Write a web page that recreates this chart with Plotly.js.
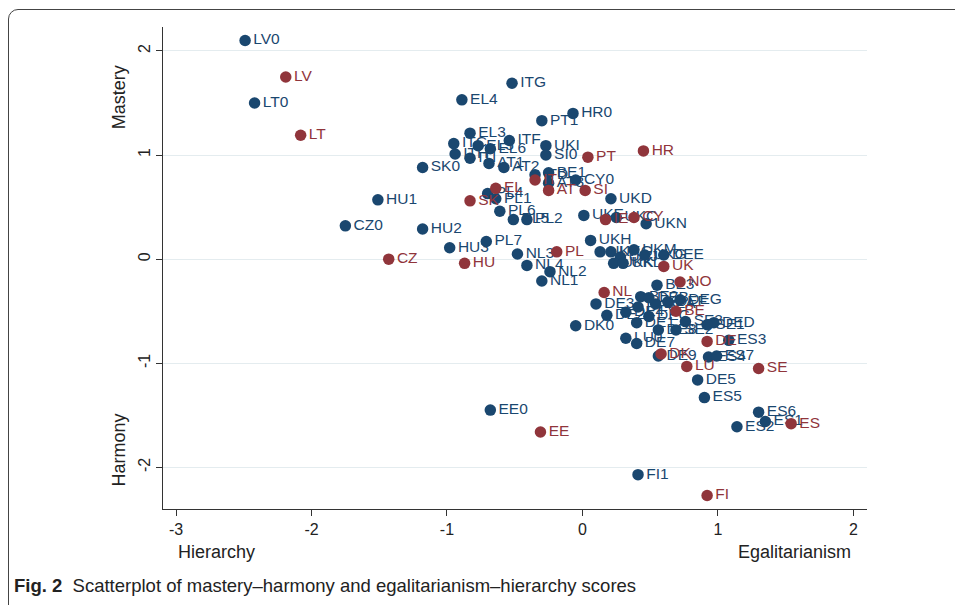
<!DOCTYPE html>
<html>
<head>
<meta charset="utf-8">
<script src="https://cdn.plot.ly/plotly-3.0.1.min.js"></script>
<style>
html,body{margin:0;padding:0;background:#fff;}
#wrap{position:relative;width:955px;height:605px;overflow:hidden;}
#chart{position:absolute;left:0;top:0;width:955px;height:605px;}
#frame{position:absolute;left:8px;top:9px;width:960px;height:610px;border:1.3px solid #444;border-radius:10px;pointer-events:none;}
</style>
</head>
<body>
<div id="wrap">
<div id="chart"></div>
<div id="frame"></div>
</div>
<script>
// Regions (blue)
const regionLabels = ["LV0","LT0","ITG","EL4","HR0","PT1","EL3","ITF","UKI","SI0","ITC","ITH","EL5","ITI","EL6","AT1","AT2","ITD","BE1","AT3","CY0","SK0","HU1","CZ0","HU2","PL4","PL1","PL6","PL5","PL2","PL7","HU3","NL3","NL4","NL2","NL1","UKD","UKE","UKC","UKN","UKH","UKM","DEE","UKF","UKG","UKJ","UKK","UKL","UKG","BE3","BE2","DEB","DEG","DEF","DEA","DE3","DE2","DE4","DE6","DE1","DEC","DED","SE1","SE2","SE3","DE8","DK0","ES3","LU0","DE7","DE9","ES4","ES7","DE5","ES5","ES6","ES1","ES2","EE0","FI1"];
const regionX = [-2.49,-2.42,-0.52,-0.89,-0.07,-0.30,-0.83,-0.54,-0.27,-0.27,-0.95,-0.94,-0.77,-0.83,-0.68,-0.69,-0.58,-0.35,-0.25,-0.25,-0.05,-1.18,-1.51,-1.75,-1.18,-0.70,-0.64,-0.61,-0.51,-0.41,-0.71,-0.98,-0.48,-0.41,-0.24,-0.30,0.21,0.01,0.25,0.47,0.06,0.38,0.60,0.13,0.21,0.28,0.23,0.30,0.46,0.55,0.43,0.49,0.72,0.63,0.54,0.10,0.18,0.32,0.41,0.40,0.49,0.97,0.92,0.69,0.76,0.56,-0.05,1.08,0.32,0.40,0.56,0.93,0.99,0.85,0.90,1.30,1.35,1.14,-0.68,0.41];
const regionY = [2.10,1.50,1.69,1.53,1.40,1.33,1.21,1.14,1.09,1.00,1.11,1.01,1.09,0.97,1.06,0.92,0.88,0.81,0.83,0.73,0.76,0.88,0.57,0.32,0.29,0.63,0.58,0.46,0.38,0.38,0.17,0.11,0.05,-0.06,-0.12,-0.21,0.58,0.42,0.40,0.34,0.18,0.09,0.04,0.07,0.07,0.02,-0.04,-0.04,0.04,-0.25,-0.36,-0.37,-0.39,-0.41,-0.43,-0.43,-0.54,-0.51,-0.46,-0.61,-0.55,-0.61,-0.63,-0.68,-0.60,-0.68,-0.64,-0.78,-0.76,-0.81,-0.93,-0.94,-0.93,-1.16,-1.33,-1.47,-1.56,-1.61,-1.45,-2.07];

// Countries (red)
const countryLabels = ["LV","LT","HR","PT","IT","AT","SI","EL","SK","CZ","HU","IE","CY","PL","UK","NO","NL","BE","DE","DK","LU","SE","ES","EE","FI"];
const countryX = [-2.19,-2.08,0.45,0.04,-0.35,-0.25,0.02,-0.64,-0.83,-1.43,-0.87,0.17,0.38,-0.19,0.60,0.72,0.16,0.69,0.92,0.58,0.77,1.30,1.54,-0.31,0.92];
const countryY = [1.75,1.19,1.04,0.98,0.76,0.66,0.66,0.68,0.56,0.00,-0.04,0.38,0.40,0.07,-0.07,-0.22,-0.32,-0.50,-0.79,-0.91,-1.03,-1.05,-1.58,-1.66,-2.27];

const xTicks = [-3,-2,-1,0,1,2];
const yTicks = [-2,-1,0,1,2];

const blue = '#1a476f';
const red = '#90353b';
const fontFam = 'Liberation Sans Narrow, Arial, sans-serif';
const labelFam = 'Liberation Sans, Arial, sans-serif';

const traces = [
  {x: regionX, y: regionY, text: regionLabels, mode: 'markers+text', type: 'scatter',
   textposition: 'middle right', cliponaxis: false,
   marker: {color: blue, size: 11.5}, textfont: {color: blue, size: 15.5, family: labelFam}},
  {x: countryX, y: countryY, text: countryLabels, mode: 'markers+text', type: 'scatter',
   textposition: 'middle right', cliponaxis: false,
   marker: {color: red, size: 11.5}, textfont: {color: red, size: 15.5, family: labelFam}}
];

const layout = {
  width: 955, height: 605,
  margin: {l: 163, r: 88, t: 27, b: 96},
  paper_bgcolor: '#fff', plot_bgcolor: '#fff',
  showlegend: false,
  xaxis: {range: [-3.096, 2.10], tickvals: xTicks, ticktext: xTicks.map(String),
    showgrid: false, zeroline: false, showline: true, linecolor: '#333', linewidth: 1,
    ticks: 'outside', ticklen: 6, tickcolor: '#333',
    tickfont: {size: 16, color: '#222', family: fontFam}},
  yaxis: {range: [-2.40, 2.23], tickvals: yTicks, ticktext: yTicks.map(String),
    showgrid: true, gridcolor: '#e4ecef', gridwidth: 1, zeroline: false,
    showline: true, linecolor: '#333', linewidth: 1,
    ticks: 'outside', ticklen: 6, tickcolor: '#333', tickangle: -90,
    tickfont: {size: 16, color: '#222', family: fontFam}},
  annotations: [
    {text: 'Mastery', xref: 'paper', yref: 'paper', x: -0.062, y: 0.855, textangle: -90,
     showarrow: false, font: {size: 18, color: '#222', family: fontFam}, xanchor: 'center', yanchor: 'middle'},
    {text: 'Harmony', xref: 'paper', yref: 'paper', x: -0.062, y: 0.122, textangle: -90,
     showarrow: false, font: {size: 18, color: '#222', family: fontFam}, xanchor: 'center', yanchor: 'middle'},
    {text: 'Hierarchy', xref: 'x', yref: 'paper', x: -3.0, y: -0.089, xanchor: 'left', yanchor: 'middle',
     showarrow: false, font: {size: 18, color: '#222', family: fontFam}},
    {text: 'Egalitarianism', xref: 'x', yref: 'paper', x: 2.0, y: -0.089, xanchor: 'right', yanchor: 'middle',
     showarrow: false, font: {size: 18, color: '#222', family: fontFam}},
    {text: '<b>Fig. 2</b>  Scatterplot of mastery–harmony and egalitarianism–hierarchy scores',
     xref: 'paper', yref: 'paper', x: -0.214, y: -0.158, xanchor: 'left', yanchor: 'middle',
     showarrow: false, font: {size: 18.5, color: '#222', family: fontFam}}
  ]
};

Plotly.newPlot('chart', traces, layout, {displayModeBar: false, staticPlot: true});
</script>
</body>
</html>
